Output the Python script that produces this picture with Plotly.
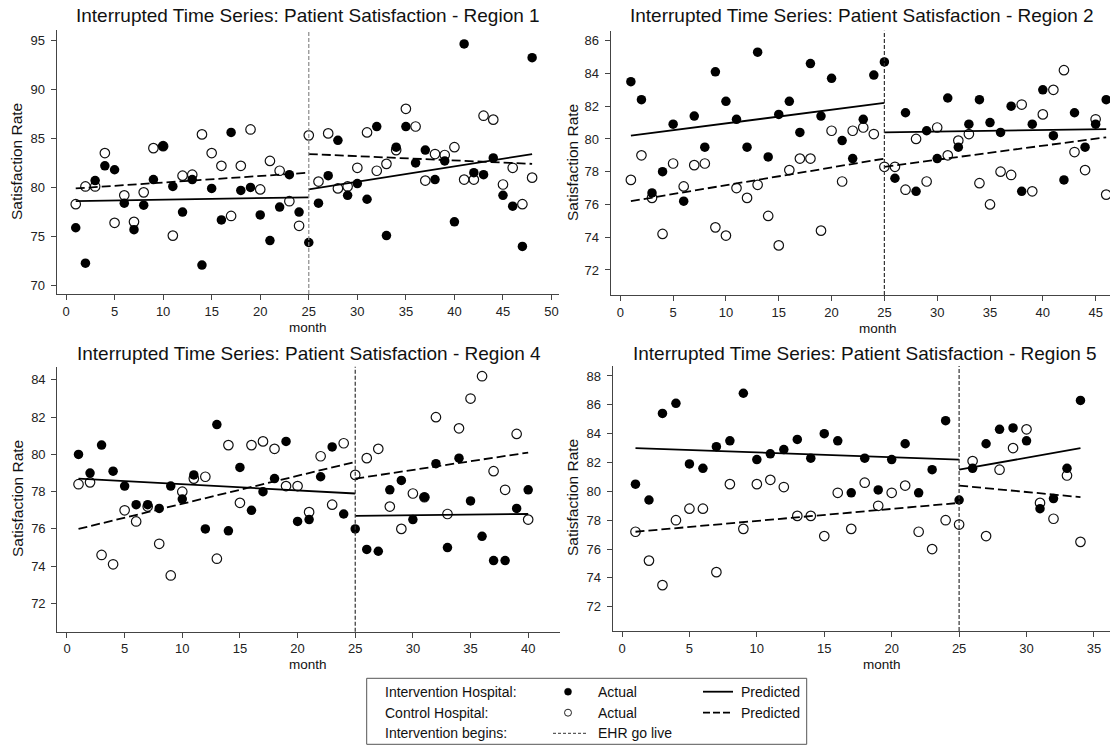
import plotly.graph_objects as go

W, H = 1110, 745
FONT = "Liberation Sans, Arial, sans-serif"
INK = "#111111"
AXIS = "#444444"

# ---- Region 1 (48 months, EHR go-live at month 25) ----
r1_intervention = [75.9, 72.3, 80.7, 82.2, 81.8, 78.4, 75.7, 78.2, 80.8, 84.2, 80.1, 77.5, 80.8,
                   72.1, 79.9, 76.7, 85.6, 79.7, 80.0, 77.2, 74.6, 78.0, 81.3, 77.5, 74.4,
                   78.4, 81.2, 84.8, 79.2, 80.4, 78.8, 86.2, 75.1, 84.1, 86.2, 82.5, 83.8,
                   80.8, 82.7, 76.5, 94.6, 81.5, 81.3, 83.0, 79.2, 78.1, 74.0, 93.2]
r1_control = [78.3, 80.1, 80.1, 83.5, 76.4, 79.2, 76.5, 79.5, 84.0, 84.2, 75.1, 81.2, 81.3,
              85.4, 83.5, 82.2, 77.1, 82.2, 85.9, 79.8, 82.7, 81.7, 78.6, 76.1, 85.3,
              80.6, 85.5, 79.9, 80.1, 82.0, 85.6, 81.7, 82.4, 83.8, 88.0, 86.2, 80.7,
              83.4, 83.3, 84.1, 80.8, 80.8, 87.3, 86.9, 80.3, 82.0, 78.3, 81.0]
r1_int_pred_pre = [78.6, 79.0]
r1_int_pred_post = [79.8, 83.4]
r1_ctl_pred_pre = [79.9, 81.5]
r1_ctl_pred_post = [83.4, 82.4]

# ---- Region 2 (46 months) ----
r2_intervention = [83.5, 82.4, 76.7, 78.0, 80.9, 76.2, 81.4, 79.5, 84.1, 82.3, 81.2, 79.5, 85.3,
                   78.9, 81.5, 82.3, 80.4, 84.6, 81.4, 83.7, 79.9, 78.8, 81.2, 83.9, 84.7,
                   77.6, 81.6, 76.8, 80.5, 78.8, 82.5, 79.5, 80.9, 82.4, 81.0, 80.4, 82.0,
                   76.8, 80.9, 83.0, 80.2, 77.5, 81.6, 79.5, 80.9, 82.4]
r2_control = [77.5, 79.0, 76.4, 74.2, 78.5, 77.1, 78.4, 78.5, 74.6, 74.1, 77.0, 76.4, 77.2,
              75.3, 73.5, 78.1, 78.8, 78.8, 74.4, 80.5, 77.4, 80.5, 80.7, 80.3, 78.3,
              78.3, 76.9, 80.0, 77.4, 80.7, 79.0, 79.9, 80.3, 77.3, 76.0, 78.0, 77.8,
              82.1, 76.8, 81.5, 83.0, 84.2, 79.2, 78.1, 81.2, 76.6]
r2_int_pred_pre = [80.2, 82.2]
r2_int_pred_post = [80.4, 80.6]
r2_ctl_pred_pre = [76.2, 78.8]
r2_ctl_pred_post = [78.3, 80.1]

# ---- Region 4 (40 months) ----
r4_intervention = [80.0, 79.0, 80.5, 79.1, 78.3, 77.3, 77.3, 77.1, 78.3, 77.6, 78.9, 76.0, 81.6,
                   75.9, 79.3, 77.0, 78.0, 78.7, 80.7, 76.4, 76.5, 78.8, 80.4, 76.8, 76.0,
                   74.9, 74.8, 78.1, 78.6, 76.5, 77.7, 79.5, 75.0, 79.8, 77.5, 75.6, 74.3,
                   74.3, 77.1, 78.1]
r4_control = [78.4, 78.5, 74.6, 74.1, 77.0, 76.4, 77.2, 75.2, 73.5, 78.0, 78.7, 78.8, 74.4,
              80.5, 77.4, 80.5, 80.7, 80.3, 78.3, 78.3, 76.9, 79.9, 77.3, 80.6, 78.9,
              79.8, 80.3, 77.2, 76.0, 77.9, 77.7, 82.0, 76.8, 81.4, 83.0, 84.2, 79.1,
              78.1, 81.1, 76.5]
r4_int_pred_pre = [78.7, 77.9]
r4_int_pred_post = [76.7, 76.8]
r4_ctl_pred_pre = [76.0, 79.6]
r4_ctl_pred_post = [78.7, 80.1]

# ---- Region 5 (34 months) ----
r5_intervention = [80.5, 79.4, 85.4, 86.1, 81.9, 81.6, 83.1, 83.5, 86.8, 82.2, 82.6, 82.9, 83.6,
                   82.3, 84.0, 83.5, 79.9, 82.3, 80.1, 82.2, 83.3, 79.9, 81.5, 84.9, 79.4,
                   81.6, 83.3, 84.3, 84.4, 83.5, 78.8, 79.5, 81.6, 86.3]
r5_control = [77.2, 75.2, 73.5, 78.0, 78.8, 78.8, 74.4, 80.5, 77.4, 80.5, 80.8, 80.3, 78.3,
              78.3, 76.9, 79.9, 77.4, 80.6, 79.0, 79.9, 80.4, 77.2, 76.0, 78.0, 77.7,
              82.1, 76.9, 81.5, 83.0, 84.3, 79.2, 78.1, 81.1, 76.5]
r5_int_pred_pre = [83.0, 82.2]
r5_int_pred_post = [81.5, 83.0]
r5_ctl_pred_pre = [77.2, 79.2]
r5_ctl_pred_post = [80.4, 79.6]

go_live_month = 25

# panel layout: pixel boxes (left, top, right, bottom), axis ranges and ticks
panels = [
    dict(name="Region 1", inter=r1_intervention, ctrl=r1_control,
         ip=(r1_int_pred_pre, r1_int_pred_post), cp=(r1_ctl_pred_pre, r1_ctl_pred_post),
         box=(56.7, 30.0, 559.3, 294.0), xr=[-0.96, 50.8], yr=[69.16, 96.02],
         xt=list(range(0, 51, 5)), yt=list(range(70, 96, 5)),
         title_xy=(308, 16), ytitle_xy=(17, 162), month_xy=(308, 327), vline="#8a8a8a"),
    dict(name="Region 2", inter=r2_intervention, ctrl=r2_control,
         ip=(r2_int_pred_pre, r2_int_pred_post), cp=(r2_ctl_pred_pre, r2_ctl_pred_post),
         box=(610.7, 30.7, 1110.0, 295.0), xr=[-0.91, 46.36], yr=[70.47, 86.61],
         xt=list(range(0, 46, 5)), yt=list(range(72, 87, 2)),
         title_xy=(862, 16), ytitle_xy=(573, 162), month_xy=(878, 328), vline="#333333"),
    dict(name="Region 4", inter=r4_intervention, ctrl=r4_control,
         ip=(r4_int_pred_pre, r4_int_pred_post), cp=(r4_ctl_pred_pre, r4_ctl_pred_post),
         box=(57.3, 366.7, 560.0, 631.7), xr=[-0.84, 42.76], yr=[70.48, 84.71],
         xt=list(range(0, 41, 5)), yt=list(range(72, 85, 2)),
         title_xy=(309, 353), ytitle_xy=(17, 499), month_xy=(308, 664.5), vline="#333333"),
    dict(name="Region 5", inter=r5_intervention, ctrl=r5_control,
         ip=(r5_int_pred_pre, r5_int_pred_post), cp=(r5_ctl_pred_pre, r5_ctl_pred_post),
         box=(612.7, 366.0, 1110.0, 631.0), xr=[-0.69, 36.19], yr=[70.32, 88.69],
         xt=list(range(0, 36, 5)), yt=list(range(72, 89, 2)),
         title_xy=(865, 353), ytitle_xy=(572, 498), month_xy=(882, 664.5), vline="#333333"),
]


def px(x):
    return x / W


def py(y):
    return 1 - y / H


fig = go.Figure()
annotations = []
shapes = []

for i, p in enumerate(panels, start=1):
    sfx = "" if i == 1 else str(i)
    xa, ya = "x" + sfx, "y" + sfx
    n = len(p["inter"])
    months = list(range(1, n + 1))
    pre_x = [1, go_live_month]
    post_x = [go_live_month, n]

    fig.add_trace(go.Scatter(
        x=months, y=p["ctrl"], mode="markers", xaxis=xa, yaxis=ya, showlegend=False,
        marker=dict(symbol="circle-open", size=9.5, color="#111111", line=dict(width=1.2))))
    fig.add_trace(go.Scatter(
        x=months, y=p["inter"], mode="markers", xaxis=xa, yaxis=ya, showlegend=False,
        marker=dict(symbol="circle", size=9.5, color="#000000", line=dict(width=0))))
    for seg_x, seg_y in ((pre_x, p["ip"][0]), (post_x, p["ip"][1])):
        fig.add_trace(go.Scatter(x=seg_x, y=seg_y, mode="lines", xaxis=xa, yaxis=ya,
                                 showlegend=False, line=dict(color="#000000", width=1.8)))
    for seg_x, seg_y in ((pre_x, p["cp"][0]), (post_x, p["cp"][1])):
        fig.add_trace(go.Scatter(x=seg_x, y=seg_y, mode="lines", xaxis=xa, yaxis=ya,
                                 showlegend=False,
                                 line=dict(color="#000000", width=1.8, dash="9px,4px")))

    l, t, r, b = p["box"]
    axis_common = dict(showline=True, linecolor=AXIS, linewidth=1.2, showgrid=False,
                       zeroline=False, ticks="outside", ticklen=5, tickcolor=AXIS,
                       tickwidth=1.2, tickfont=dict(family=FONT, size=13, color="#222222"))
    fig.layout["xaxis" + sfx] = dict(domain=[px(l), px(r)], range=p["xr"], anchor=ya,
                                     tickmode="array", tickvals=p["xt"], **axis_common)
    fig.layout["yaxis" + sfx] = dict(domain=[py(b), py(t)], range=p["yr"], anchor=xa,
                                     tickmode="array", tickvals=p["yt"],
                                     ticklabelstandoff=3, **axis_common)

    shapes.append(dict(type="line", xref=xa, yref=ya + " domain", x0=go_live_month,
                       x1=go_live_month, y0=0, y1=1,
                       line=dict(color=p["vline"], width=1.2, dash="4px,2px")))

    annotations.append(dict(text="Interrupted Time Series: Patient Satisfaction - " + p["name"],
                            x=px(p["title_xy"][0]), y=py(p["title_xy"][1]), xref="paper",
                            yref="paper", showarrow=False, xanchor="center", yanchor="middle",
                            font=dict(family=FONT, size=19, color=INK)))
    annotations.append(dict(text="Satisfaction Rate", textangle=-90,
                            x=px(p["ytitle_xy"][0]), y=py(p["ytitle_xy"][1]), xref="paper",
                            yref="paper", showarrow=False, xanchor="center", yanchor="middle",
                            font=dict(family=FONT, size=15.5, color=INK)))
    annotations.append(dict(text="month", x=px(p["month_xy"][0]), y=py(p["month_xy"][1]),
                            xref="paper", yref="paper", showarrow=False, xanchor="center",
                            yanchor="middle", font=dict(family=FONT, size=13.5, color=INK)))

# ---- key box ----
shapes.append(dict(type="rect", xref="paper", yref="paper", x0=px(366.7), x1=px(806.7),
                   y0=py(744.3), y1=py(678.3), line=dict(color="#555555", width=1),
                   fillcolor="white", layer="below"))
key_rows = [691.7, 712.7, 733.3]
key_labels = ["Intervention Hospital:", "Control Hospital:", "Intervention begins:"]
key_font = dict(family=FONT, size=14, color=INK)
for yy, lab in zip(key_rows, key_labels):
    annotations.append(dict(text=lab, x=px(382.7), y=py(yy), xref="paper", yref="paper",
                            showarrow=False, xanchor="left", yanchor="middle", font=key_font))
for yy, lab in ((key_rows[0], "Actual"), (key_rows[1], "Actual"), (key_rows[2], "EHR go live")):
    annotations.append(dict(text=lab, x=px(596), y=py(yy), xref="paper", yref="paper",
                            showarrow=False, xanchor="left", yanchor="middle", font=key_font))
for yy in key_rows[:2]:
    annotations.append(dict(text="Predicted", x=px(739), y=py(yy), xref="paper", yref="paper",
                            showarrow=False, xanchor="left", yanchor="middle", font=key_font))
# key symbols
shapes.append(dict(type="circle", xref="paper", yref="paper", xsizemode="pixel",
                   ysizemode="pixel", xanchor=px(568), yanchor=py(key_rows[0]),
                   x0=-3.5, x1=3.5, y0=-3.5, y1=3.5, fillcolor="#000000",
                   line=dict(color="#000000", width=0.5)))
shapes.append(dict(type="circle", xref="paper", yref="paper", xsizemode="pixel",
                   ysizemode="pixel", xanchor=px(568), yanchor=py(key_rows[1]),
                   x0=-3.5, x1=3.5, y0=-3.5, y1=3.5, fillcolor="white",
                   line=dict(color="#222222", width=1)))
shapes.append(dict(type="line", xref="paper", yref="paper", x0=px(703), x1=px(733),
                   y0=py(key_rows[0]), y1=py(key_rows[0]), line=dict(color="#000", width=1.8)))
shapes.append(dict(type="line", xref="paper", yref="paper", x0=px(703), x1=px(733),
                   y0=py(key_rows[1]), y1=py(key_rows[1]),
                   line=dict(color="#000", width=1.8, dash="7px,3px")))
shapes.append(dict(type="line", xref="paper", yref="paper", x0=px(553), x1=px(587),
                   y0=py(key_rows[2]), y1=py(key_rows[2]),
                   line=dict(color="#333", width=1, dash="3px,2px")))

fig.update_layout(width=W, height=H, margin=dict(l=0, r=0, t=0, b=0),
                  paper_bgcolor="white", plot_bgcolor="white", showlegend=False,
                  annotations=annotations, shapes=shapes,
                  font=dict(family=FONT, color=INK))

fig.write_html("out.html")
